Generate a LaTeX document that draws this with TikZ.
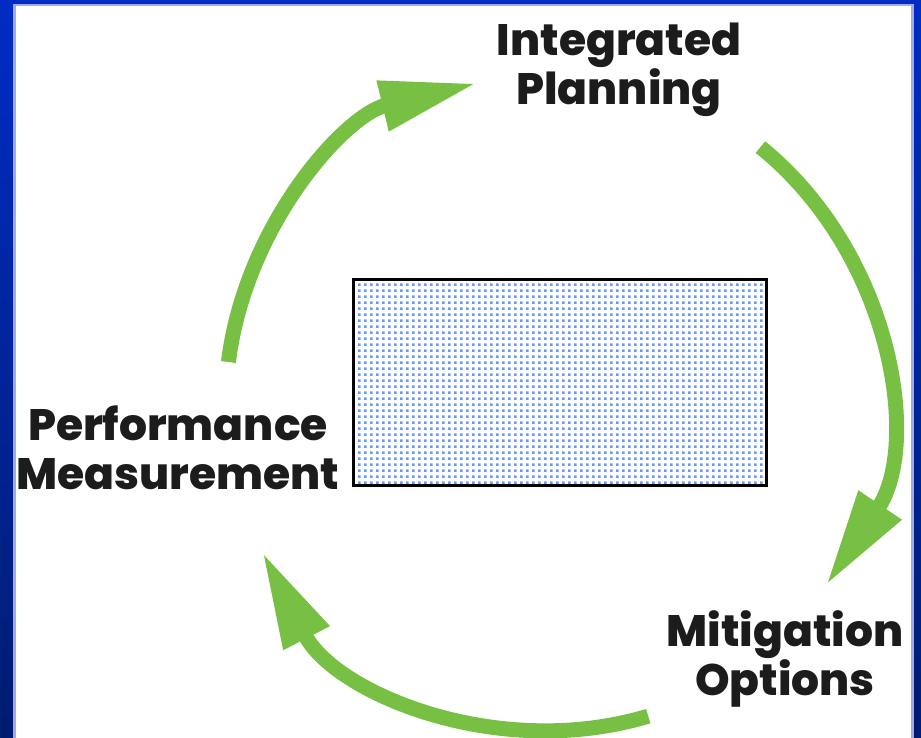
\documentclass[tikz,border=0pt]{standalone}
\usepackage{fontspec}
\newfontfamily\labfont{Poppins ExtraBold}
\usetikzlibrary{arrows.meta,patterns.meta}
\definecolor{arrowgreen}{RGB}{120,192,68}
\definecolor{bgtop}{RGB}{0,44,196}
\definecolor{bgbot}{RGB}{0,28,112}
\definecolor{panelline}{RGB}{160,170,228}
\definecolor{dotblue}{RGB}{102,153,255}
\definecolor{labelink}{RGB}{28,28,28}
\tikzdeclarepattern{name=halftone, type=uncolored,
  bounding box={(0pt,0pt) and (5.5pt,5.5pt)}, tile size={(5.5pt,5.5pt)},
  code={\fill (0pt,0pt) rectangle (2.9pt,2.9pt);}}
\begin{document}
\begin{tikzpicture}[x=1pt,y=1pt,
  cyc/.style={draw=arrowgreen, line width=15pt, -{Triangle[length=97pt,width=48pt]}},
  lab/.style={font=\labfont\fontsize{44}{49}\selectfont, text=labelink, align=center, inner sep=0pt},
]
\useasboundingbox (0,0) rectangle (921,737);
\shade[top color=bgtop, bottom color=bgbot] (0,0) rectangle (921,737);
\fill[panelline] (13.3,-10) rectangle (914,732.7);
\fill[white] (15.8,-10) rectangle (911.3,730.5);
\node (box) [draw=black, line width=3.5pt, pattern=halftone, pattern color=dotblue,
  minimum width=413pt, minimum height=206pt, inner sep=0pt] at (560,354.6) {};
\node[lab] (plan) at (619,667) {Integrated\\Planning};
\node[lab] (perf) at (178,289) {Performance\\Measurement};
\node[lab] (miti) at (785,78) {Mitigation\\Options};
\coordinate (c) at (554,335);
\draw[cyc] ([shift={(173:328)}]c) arc[start angle=173, end angle=103.6, radius=328];
\draw[cyc] ([shift={(51:328)}]c) arc[start angle=51, end angle=-34, radius=328];
\draw[cyc] ([shift={(-73.3:328)}]c) arc[start angle=-73.3, end angle=-152.8, radius=328];
\end{tikzpicture}
\end{document}
